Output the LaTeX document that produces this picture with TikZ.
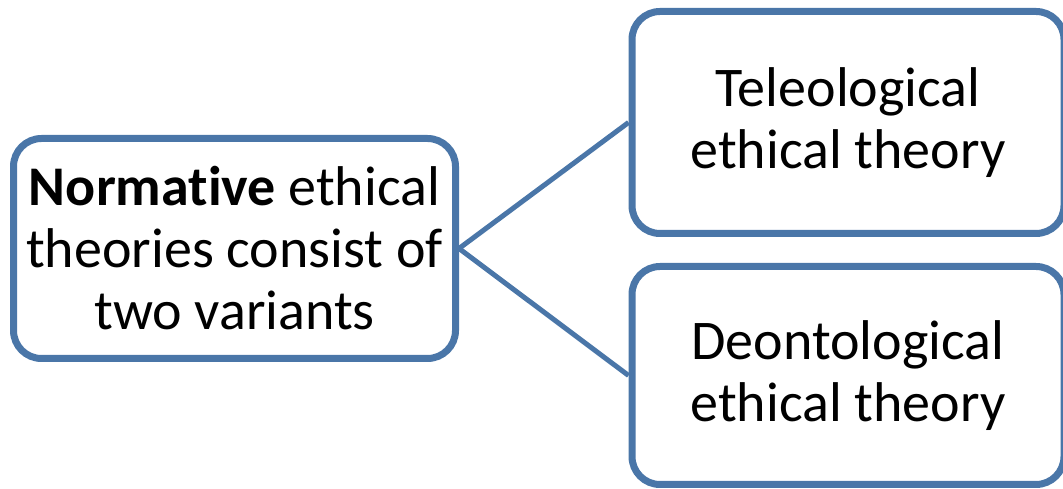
\documentclass[tikz,border=0pt]{standalone}
\usepackage{fontspec}
\setmainfont{Carlito}[Ligatures=NoCommon]
\usetikzlibrary{positioning}
\definecolor{boxblue}{RGB}{74,118,168}

\begin{document}
\begin{tikzpicture}[
    x=1pt, y=1pt,
    every node/.style={font=\fontsize{56}{62}\selectfont},
    node distance = 32pt and 176pt,
    box/.style  ={draw=boxblue, line width=7pt, rounded corners=28pt,
                  fill=white, align=center, inner sep=0pt},
    link/.style ={draw=boxblue, line width=5pt},
]
\useasboundingbox (0,0) rectangle (1063,489);
\node[box, minimum width=442pt, minimum height=220pt] (normative) at (234.5,240.5)
   {\textbf{Normative} ethical\\ theories consist of\\ two variants};
\node[box, minimum width=432pt, minimum height=222pt] (tele) at (848,366.5)
   {Teleological\\ ethical theory};
\node[box, minimum width=432pt, minimum height=218pt] (deon) at (848,113.5)
   {Deontological\\ ethical theory};
% both variants hang off the right edge of the main box
\draw[link] (normative.east) -- (tele.west);
\draw[link] (normative.east) -- (deon.west);
\end{tikzpicture}
\end{document}
